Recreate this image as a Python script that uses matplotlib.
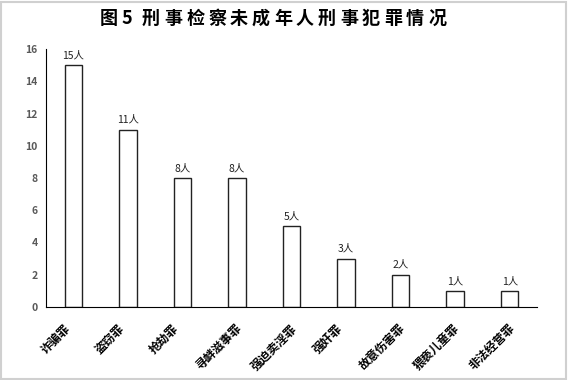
import matplotlib.pyplot as plt
import matplotlib.transforms as mtransforms
import numpy as np

plt.rcParams['font.family'] = ['Noto Sans CJK SC', 'DejaVu Sans']

categories = ['诈骗罪', '盗窃罪', '抢劫罪', '寻衅滋事罪', '强迫卖淫罪',
              '强奸罪', '故意伤害罪', '猥亵儿童罪', '非法经营罪']
counts = [15, 11, 8, 8, 5, 3, 2, 1, 1]
yticks = [0, 2, 4, 6, 8, 10, 12, 14, 16]
title_chars = ['图', '5', '', '刑', '事', '检', '察', '未', '成', '年', '人',
               '刑', '事', '犯', '罪', '情', '况']

fig = plt.figure(figsize=(5.68, 3.80), dpi=100)
ax = fig.add_axes([46 / 568, 1 - 307 / 380, 491 / 568, 258 / 380])

x = np.arange(len(categories))
ax.bar(x, counts, width=0.32, color='white', edgecolor='#222222', linewidth=1.0)
for xi, v in zip(x, counts):
    ax.text(xi, v + 0.3, f'{v}人', ha='center', va='bottom', fontsize=7.5, color='#222222')

ax.set_xlim(-0.5, len(categories) - 0.5)
ax.set_ylim(0, 16)
ax.set_yticks(yticks)
ax.set_yticklabels([str(t) for t in yticks], fontsize=7.5, fontweight='bold', color='#595959')
ax.set_xticks([])
ax.tick_params(axis='both', length=0, pad=6)
for side in ['top', 'right']:
    ax.spines[side].set_visible(False)
ax.spines['left'].set_color('black')
ax.spines['bottom'].set_color('black')

# rotated category labels, centred a bit left of each bar (Excel style)
lab_tr = mtransforms.offset_copy(ax.get_xaxis_transform(), fig=fig, x=-18, y=-15, units='dots')
for xi, name in zip(x, categories):
    ax.text(xi, 0, name, transform=lab_tr, rotation=45, ha='center', va='top',
            fontsize=8.5, fontweight='bold', color='black')

# spaced-out title
cx = 100
for ch in title_chars:
    if ch == '':
        cx += 8
        continue
    fig.text(cx / 568, 1 - 18 / 380, ch, ha='left', va='center', fontsize=13, fontweight='bold')
    cx += 12 if ch == '5' else 22

border = plt.Rectangle((0.002, 0.003), 0.995, 0.993, transform=fig.transFigure,
                       fill=False, edgecolor='#d0d0d0', linewidth=1.5)
fig.patches.append(border)

fig.savefig('out.png', dpi=100)
